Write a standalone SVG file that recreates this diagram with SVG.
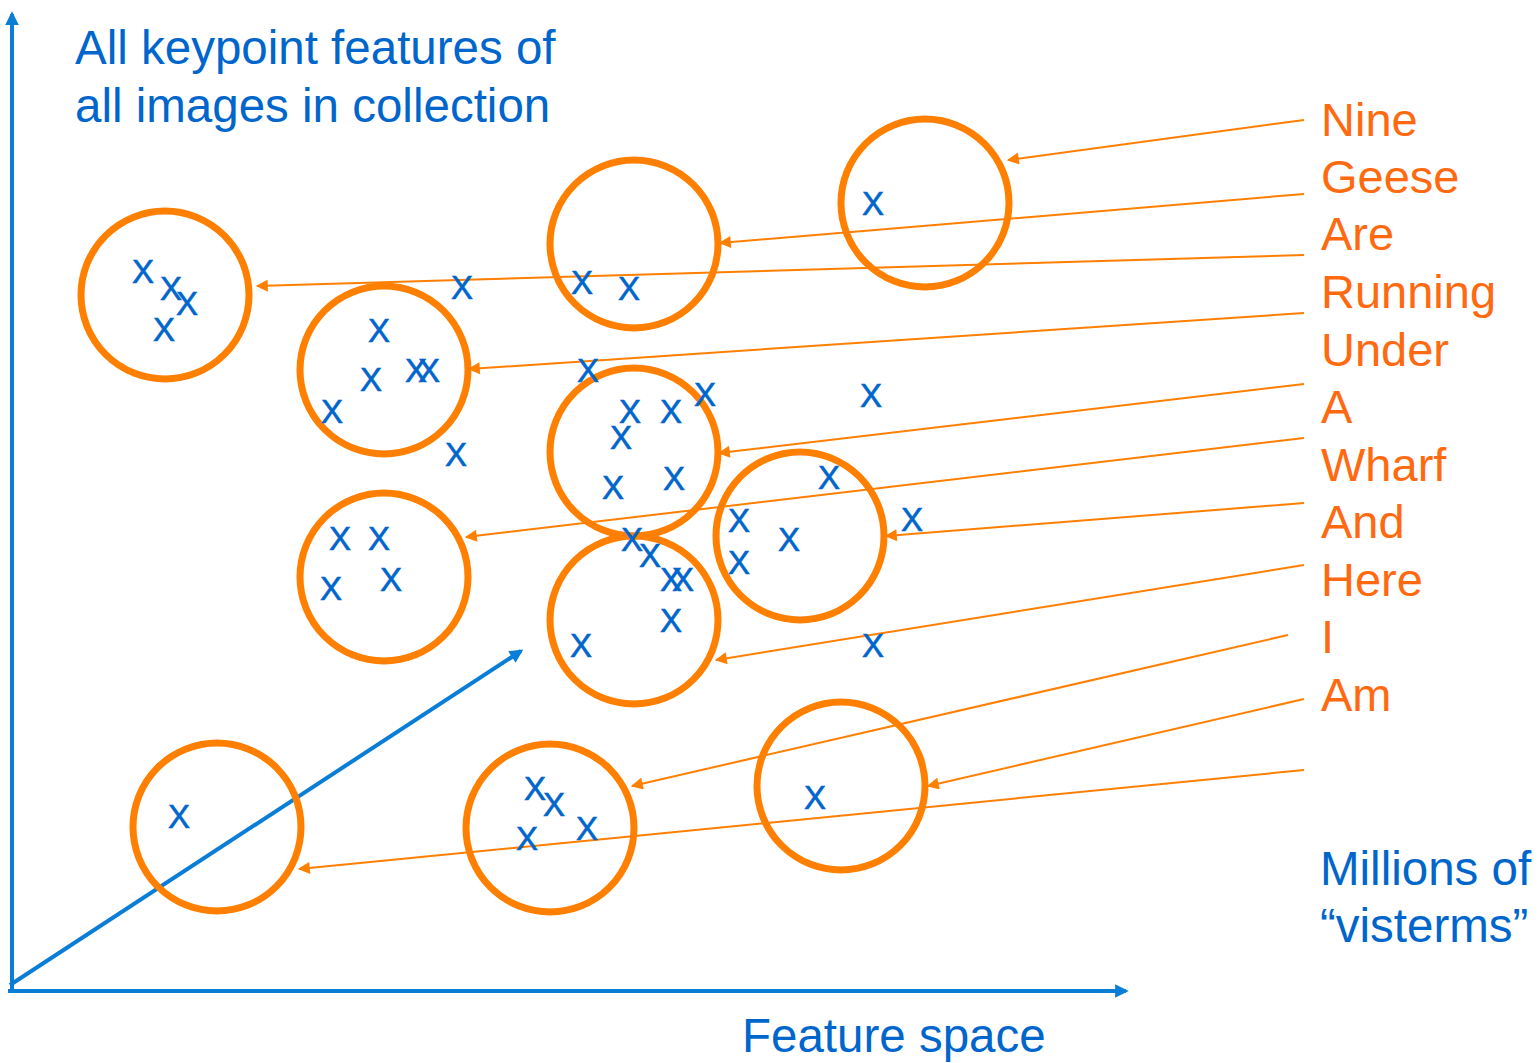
<svg xmlns="http://www.w3.org/2000/svg" width="1539" height="1063" viewBox="0 0 1539 1063">
<style>
.c{fill:none;stroke:#FF7F00;stroke-width:7}
.x{font-family:"Liberation Sans",Arial,sans-serif;font-size:33px;fill:#0066CC;stroke:#0066CC;stroke-width:0.6;text-anchor:middle}
.w{font-family:"Liberation Sans",Arial,sans-serif;font-size:47px;fill:#FF6A10}
.b{font-family:"Liberation Sans",Arial,sans-serif;font-size:47.5px;fill:#0066CC}
.ax{stroke:#0A7ED6;stroke-width:4;fill:none}
.ln{stroke:#FF7F00;stroke-width:2;fill:none}
</style>
<defs>
<marker id="oa" viewBox="0 0 10 10" refX="9" refY="5" markerWidth="15" markerHeight="12" markerUnits="userSpaceOnUse" orient="auto"><path d="M0,0L10,5L0,10Z" fill="#FF7F00"/></marker>
<marker id="ba" viewBox="0 0 10 10" refX="8" refY="5" markerWidth="4" markerHeight="3.4" orient="auto"><path d="M0,0L10,5L0,10Z" fill="#0A7ED6"/></marker>
</defs>
<rect width="1539" height="1063" fill="#fff"/>
<g id="axes">
<line class="ax" x1="12" y1="990" x2="12" y2="14" marker-end="url(#ba)"/>
<line class="ax" x1="8" y1="991" x2="1126" y2="991" marker-end="url(#ba)"/>
<line class="ax" x1="10" y1="985" x2="521" y2="651" marker-end="url(#ba)"/>
</g>
<g id="connectors">
<line class="ln" x1="1304" y1="120" x2="1008" y2="160" marker-end="url(#oa)"/>
<line class="ln" x1="1304" y1="194" x2="720" y2="243" marker-end="url(#oa)"/>
<line class="ln" x1="1304" y1="255" x2="257" y2="286" marker-end="url(#oa)"/>
<line class="ln" x1="1304" y1="313" x2="469" y2="369" marker-end="url(#oa)"/>
<line class="ln" x1="1304" y1="384" x2="719" y2="453" marker-end="url(#oa)"/>
<line class="ln" x1="1304" y1="438" x2="466" y2="537" marker-end="url(#oa)"/>
<line class="ln" x1="1304" y1="503" x2="886" y2="536" marker-end="url(#oa)"/>
<line class="ln" x1="1304" y1="565" x2="716" y2="660" marker-end="url(#oa)"/>
<line class="ln" x1="1288" y1="635" x2="632" y2="786" marker-end="url(#oa)"/>
<line class="ln" x1="1304" y1="699" x2="928" y2="786" marker-end="url(#oa)"/>
<line class="ln" x1="1304" y1="770" x2="299" y2="869" marker-end="url(#oa)"/>
</g>
<g id="clusters">
<circle id="c1" class="c" cx="165" cy="295" r="84"/>
<circle id="c2" class="c" cx="384" cy="370" r="84"/>
<circle id="c3" class="c" cx="634" cy="244" r="84"/>
<circle id="c4" class="c" cx="925" cy="203" r="84"/>
<circle id="c5" class="c" cx="634" cy="452" r="84"/>
<circle id="c6" class="c" cx="384" cy="577" r="84"/>
<circle id="c7" class="c" cx="800" cy="536" r="84"/>
<circle id="c8" class="c" cx="634" cy="620" r="84"/>
<circle id="c9" class="c" cx="217" cy="827" r="84"/>
<circle id="c10" class="c" cx="550" cy="828" r="84"/>
<circle id="c11" class="c" cx="841" cy="786" r="84"/>
</g>
<g id="points">
<text class="x" x="143" y="283">X</text>
<text class="x" x="171" y="300">X</text>
<text class="x" x="187" y="315">X</text>
<text class="x" x="164" y="341">X</text>
<text class="x" x="379" y="342">X</text>
<text class="x" x="371" y="391">X</text>
<text class="x" x="416" y="382">X</text>
<text class="x" x="429" y="382">X</text>
<text class="x" x="332" y="423">X</text>
<text class="x" x="462" y="299">X</text>
<text class="x" x="456" y="466">X</text>
<text class="x" x="582" y="294">X</text>
<text class="x" x="629" y="300">X</text>
<text class="x" x="873" y="215">X</text>
<text class="x" x="588" y="382">X</text>
<text class="x" x="630" y="423">X</text>
<text class="x" x="671" y="423">X</text>
<text class="x" x="705" y="406">X</text>
<text class="x" x="621" y="449">X</text>
<text class="x" x="613" y="499">X</text>
<text class="x" x="674" y="490">X</text>
<text class="x" x="871" y="407">X</text>
<text class="x" x="829" y="489">X</text>
<text class="x" x="739" y="532">X</text>
<text class="x" x="789" y="551">X</text>
<text class="x" x="739" y="574">X</text>
<text class="x" x="912" y="531">X</text>
<text class="x" x="340" y="550">X</text>
<text class="x" x="379" y="550">X</text>
<text class="x" x="331" y="600">X</text>
<text class="x" x="391" y="591">X</text>
<text class="x" x="632" y="551">X</text>
<text class="x" x="650" y="567">X</text>
<text class="x" x="671" y="591">X</text>
<text class="x" x="683" y="591">X</text>
<text class="x" x="671" y="632">X</text>
<text class="x" x="581" y="657">X</text>
<text class="x" x="873" y="657">X</text>
<text class="x" x="179" y="828">X</text>
<text class="x" x="535" y="800">X</text>
<text class="x" x="554" y="816">X</text>
<text class="x" x="527" y="850">X</text>
<text class="x" x="587" y="840">X</text>
<text class="x" x="815" y="809">X</text>
</g>
<g id="labels">
<text class="b" x="75" y="64">All keypoint features of</text>
<text class="b" x="75" y="122">all images in collection</text>
<text class="b" x="1320" y="885">Millions of</text>
<text class="b" x="1320" y="942">“visterms”</text>
<text class="b" x="742" y="1052">Feature space</text>
</g>
<g id="words">
<text class="w" x="1321" y="136">Nine</text>
<text class="w" x="1321" y="193">Geese</text>
<text class="w" x="1321" y="250">Are</text>
<text class="w" x="1321" y="308">Running</text>
<text class="w" x="1321" y="366">Under</text>
<text class="w" x="1321" y="423">A</text>
<text class="w" x="1321" y="481">Wharf</text>
<text class="w" x="1321" y="538">And</text>
<text class="w" x="1321" y="596">Here</text>
<text class="w" x="1321" y="653">I</text>
<text class="w" x="1321" y="711">Am</text>
</g>
</svg>
